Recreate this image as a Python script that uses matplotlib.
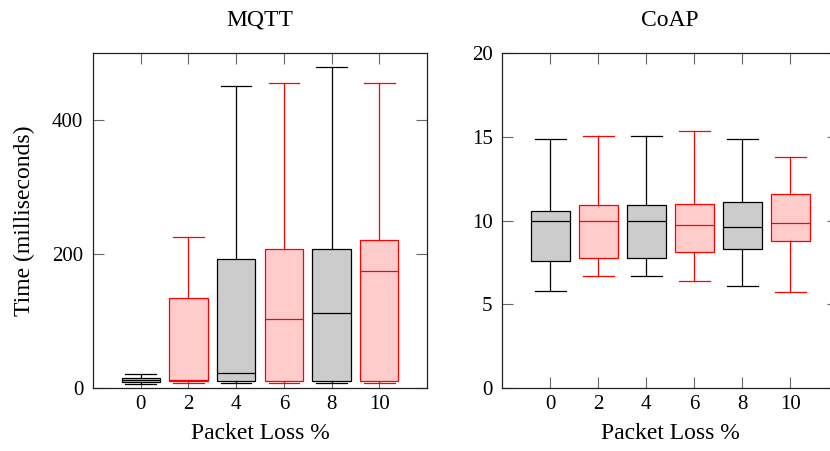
import matplotlib
matplotlib.use('Agg')
import matplotlib.pyplot as plt

# packet loss levels (%)
loss = [0, 2, 4, 6, 8, 10]

# MQTT round trip time (ms): box plot statistics
mqtt_low = [6, 7, 7, 6.5, 6.5, 6.5]
mqtt_q1 = [9, 10, 10, 10, 10, 10]
mqtt_med = [11, 11, 22, 102, 112, 174]
mqtt_q3 = [14, 134, 192, 208, 207, 221]
mqtt_high = [20, 225, 451, 455, 480, 456]

# CoAP round trip time (ms)
coap_low = [5.8, 6.7, 6.7, 6.4, 6.1, 5.75]
coap_q1 = [7.6, 7.75, 7.75, 8.1, 8.3, 8.75]
coap_med = [10.0, 9.95, 9.95, 9.75, 9.6, 9.85]
coap_q3 = [10.55, 10.95, 10.95, 11.0, 11.1, 11.6]
coap_high = [14.85, 15.05, 15.05, 15.35, 14.85, 13.8]

plt.rcParams['font.family'] = ['Liberation Serif', 'DejaVu Serif']
plt.rcParams['font.size'] = 15

edge_cols = ['black', 'red']
fill_cols = ['#cccccc', '#ffcccc']

W, H = 830, 451
LABEL_SIZE = 17


def draw_boxes(ax, low, q1, med, q3, high):
    stats = []
    for i in range(len(loss)):
        stats.append({'whislo': low[i], 'q1': q1[i], 'med': med[i],
                      'q3': q3[i], 'whishi': high[i], 'fliers': []})
    art = ax.bxp(stats, positions=loss, widths=1.6, capwidths=1.28,
                 patch_artist=True, showfliers=False, manage_ticks=False)
    for i in range(len(loss)):
        ec = edge_cols[i % 2]
        fc = fill_cols[i % 2]
        art['boxes'][i].set_facecolor(fc)
        art['boxes'][i].set_edgecolor(ec)
        art['boxes'][i].set_linewidth(0.9)
        art['medians'][i].set_color(ec)
        art['medians'][i].set_linewidth(0.9)
        for ln in art['whiskers'][2 * i:2 * i + 2] + art['caps'][2 * i:2 * i + 2]:
            ln.set_color(ec)
            ln.set_linewidth(0.9)


def style(ax, yticks, ylim):
    ax.set_xlim(-2, 12)
    ax.set_ylim(*ylim)
    ax.set_xticks(loss)
    ax.set_yticks(yticks)
    ax.tick_params(direction='in', length=8, width=0.8, color='#666666',
                   top=True, right=True, pad=5)
    ax.tick_params(axis='y', pad=7)
    for sp in ax.spines.values():
        sp.set_linewidth(0.9)
        sp.set_color('#222222')
    ax.set_xlabel('Packet Loss %', labelpad=7, fontsize=LABEL_SIZE)


fig = plt.figure(figsize=(W / 100, H / 100), dpi=100)
bottom = (H - 387.7) / H
height = (387.7 - 53.3) / H
ax1 = fig.add_axes([93 / W, bottom, 334 / W, height])
ax2 = fig.add_axes([502.3 / W, bottom, 336 / W, height])

draw_boxes(ax1, mqtt_low, mqtt_q1, mqtt_med, mqtt_q3, mqtt_high)
style(ax1, [0, 200, 400], (0, 500))
ax1.set_ylabel('Time (milliseconds)', labelpad=12, fontsize=LABEL_SIZE)
ax1.set_title('MQTT', pad=20, fontsize=LABEL_SIZE)

draw_boxes(ax2, coap_low, coap_q1, coap_med, coap_q3, coap_high)
style(ax2, [0, 5, 10, 15, 20], (0, 20))
ax2.set_title('CoAP', pad=20, fontsize=LABEL_SIZE)

fig.savefig('out.png', dpi=100)
plt.close(fig)
